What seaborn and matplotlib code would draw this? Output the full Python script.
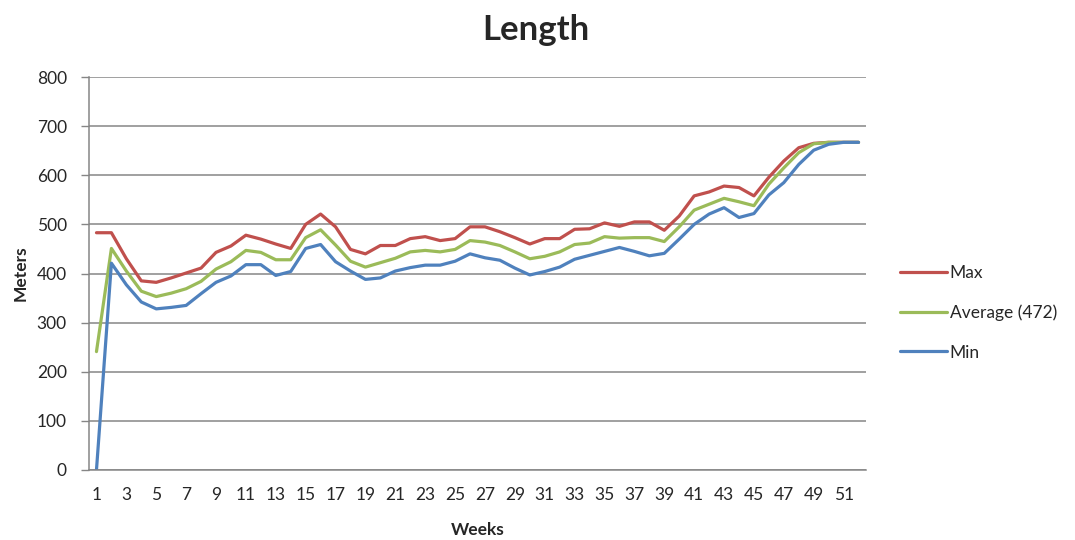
import numpy as np
import pandas as pd
import matplotlib
matplotlib.use("Agg")
import matplotlib.pyplot as plt
import seaborn as sns

# Weekly length statistics (meters)
weeks = list(range(1, 53))
max_vals = [483, 483, 430, 385, 382, 391, 401, 411, 443, 456,
            478, 470, 460, 451, 500, 521, 495, 449, 440, 457,
            457, 471, 475, 467, 471, 495, 495, 485, 473, 460,
            471, 471, 490, 491, 503, 496, 505, 505, 488, 517,
            558, 566, 578, 575, 558, 596, 629, 656, 665, 667,
            667, 667]
avg_vals = [241, 451, 405, 364, 353, 360, 369, 384, 409, 424,
            447, 443, 428, 428, 473, 489, 458, 425, 413, 422,
            431, 444, 447, 444, 449, 467, 464, 457, 444, 430,
            435, 444, 459, 462, 475, 472, 473, 473, 465, 495,
            529, 541, 553, 546, 538, 582, 615, 646, 664, 667,
            667, 667]
min_vals = [0, 421, 377, 342, 328, 331, 335, 359, 382, 395,
            418, 418, 396, 404, 451, 459, 424, 405, 388, 391,
            405, 412, 417, 417, 425, 440, 432, 427, 411, 397,
            404, 413, 429, 437, 445, 453, 445, 436, 441, 470,
            500, 521, 534, 514, 522, 560, 585, 622, 651, 663,
            667, 667]

avg_label = f"Average ({round(np.mean(avg_vals))})"
series_names = ["Max", avg_label, "Min"]
palette = {"Max": "#C0504D", avg_label: "#9BBB59", "Min": "#4F81BD"}

df = pd.concat([
    pd.DataFrame({"Week": weeks, "Meters": max_vals, "Series": "Max"}),
    pd.DataFrame({"Week": weeks, "Meters": avg_vals, "Series": avg_label}),
    pd.DataFrame({"Week": weeks, "Meters": min_vals, "Series": "Min"}),
], ignore_index=True)

sns.set_style("white")
plt.rcParams["font.family"] = ["Lato", "DejaVu Sans"]

fig = plt.figure(figsize=(10.75, 5.4), dpi=100)
ax = fig.add_axes([89 / 1075, 1 - 470 / 540, (866 - 89) / 1075, (470 - 77) / 540])

sns.lineplot(data=df, x="Week", y="Meters", hue="Series", hue_order=series_names,
             palette=palette, linewidth=2.3, ax=ax, legend=True)

grid_color = "#868686"
ax.set_xlim(0.5, 52.5)
ax.set_ylim(0, 800)
ax.set_yticks(range(0, 801, 100))
ax.yaxis.grid(True, color=grid_color, linewidth=1.1)
ax.set_axisbelow(True)

# Category-style x axis: labels on odd weeks, tick marks between weeks
ax.set_xticks(weeks[::2])
ax.set_xticklabels([str(w) for w in weeks[::2]])
ax.set_xticks([w + 0.5 for w in range(0, 53)], minor=True)
ax.tick_params(axis="x", which="major", length=0, pad=12, labelsize=12.5)
ax.tick_params(axis="x", which="minor", length=5, width=1, color=grid_color,
               direction="out")
ax.tick_params(axis="y", which="major", length=6, width=1, color=grid_color,
               direction="out", pad=10, labelsize=12.5, left=True)

for side in ["top", "right"]:
    ax.spines[side].set_visible(False)
for side in ["left", "bottom"]:
    ax.spines[side].set_color(grid_color)
    ax.spines[side].set_linewidth(1.1)

ax.set_xlabel("Weeks", fontsize=12.5, fontweight="bold", labelpad=14)
ax.set_ylabel("Meters", fontsize=12.5, fontweight="bold", labelpad=6)
fig.suptitle("Length", fontsize=25, fontweight="bold", x=536 / 1075, y=0.975)

leg = ax.legend(loc="center left", bbox_to_anchor=(1.024, 0.4), frameon=False,
                fontsize=12.5, labelspacing=1.35, handlelength=2.7,
                handletextpad=0.15)

fig.savefig("out.png", dpi=100)
